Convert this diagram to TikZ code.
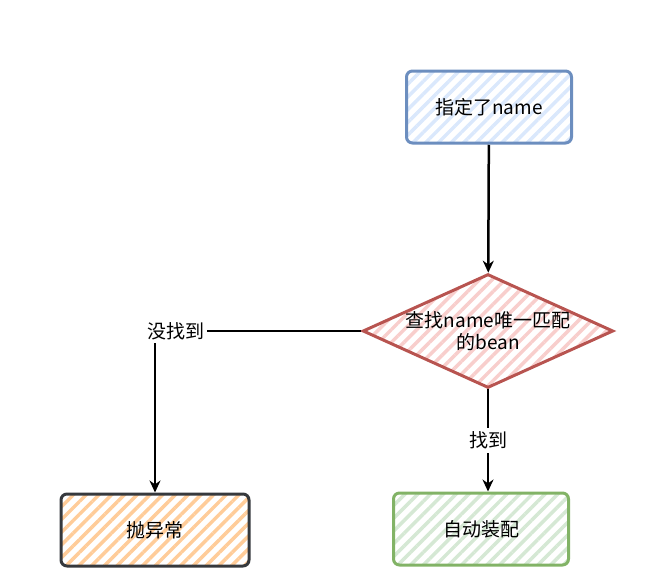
\documentclass[tikz,border=0pt]{standalone}
\usepackage{fontspec}
\setmainfont{Noto Sans CJK SC}
\usetikzlibrary{shapes.geometric,patterns.meta,arrows.meta}
\definecolor{bstroke}{HTML}{6C8EBF}\definecolor{bfill}{HTML}{DAE8FC}
\definecolor{rstroke}{HTML}{B85450}\definecolor{rfill}{HTML}{F8CECC}
\definecolor{gstroke}{HTML}{82B366}\definecolor{gfill}{HTML}{D5E8D4}
\definecolor{ofill}{HTML}{FFCC99}\definecolor{kstroke}{HTML}{36393D}
\begin{document}
\begin{tikzpicture}[x=1pt,y=-1pt,
  box/.style={draw,line width=3pt,rounded corners=6pt,minimum width=165pt,minimum height=72pt,font=\fontsize{19}{23}\selectfont},
  hatch/.style={pattern={Lines[angle=45,distance=9pt,line width=3.5pt]},pattern color=#1},
  arr/.style={line width=2.5pt,-{Stealth[length=12pt,width=11pt]}},
  lbl/.style={fill=white,font=\fontsize{19}{23}\selectfont}]
\useasboundingbox (0,0) rectangle (651,581);
\node[box,draw=bstroke,hatch=bfill] (a) at (489,107) {指定了name};
\node[diamond,aspect=2.2,draw=rstroke,line width=3pt,inner sep=0pt,minimum width=205pt,minimum height=93pt,hatch=rfill,align=center,font=\fontsize{19}{22}\selectfont] (d) at (488,331) {查找name唯一匹配\\的bean};
\node[box,draw=kstroke,minimum width=188pt,hatch=ofill] (l) at (155,530) {抛异常};
\node[box,draw=gstroke,minimum width=175pt,hatch=gfill] (r) at (481,529) {自动装配};
\draw[arr] (a) -- (d);
\draw[arr] (d.west) -| node[lbl,pos=0.45]{没找到} (l.north);
\draw[arr] (d.south) -- node[lbl]{找到} (r.north -| d.south);
\end{tikzpicture}
\end{document}
